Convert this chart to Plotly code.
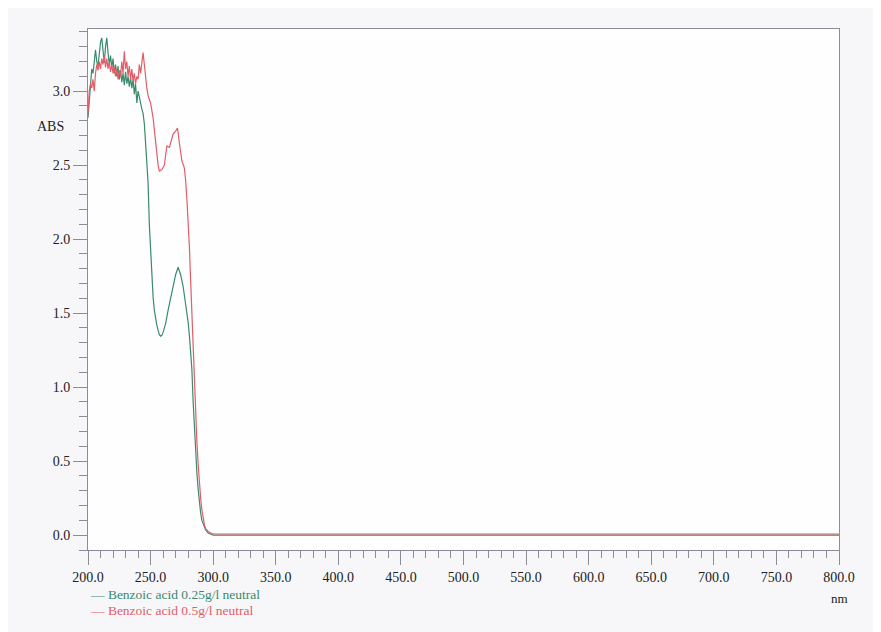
import plotly.graph_objects as go

# UV-Vis absorbance spectra of benzoic acid (neutral)
green_name = "Benzoic acid 0.25g/l neutral"
green_nm = [200, 201, 202, 203, 204, 205, 206, 207, 208, 209, 210, 211, 212, 213, 214, 215,
            216, 217, 218, 219, 220, 221, 222, 223, 224, 225, 226, 227, 228, 229, 230, 231,
            232, 233, 234, 235, 236, 237, 238, 239, 240, 241, 242, 243, 244, 245, 246, 247,
            248, 249, 250, 251, 252, 253, 254, 255, 256, 257, 258, 259, 260, 262, 264, 266,
            268, 270, 272, 274, 276, 278, 280, 281, 282, 283, 284, 285, 286, 287, 288, 289,
            290, 291, 292, 293, 294, 296, 298, 300, 400, 500, 600, 700, 800]
green_abs = [2.82, 2.95, 3.05, 3.15, 3.12, 3.22, 3.28, 3.20, 3.17, 3.25, 3.33, 3.36, 3.24, 3.19, 3.30, 3.36,
             3.26, 3.18, 3.24, 3.16, 3.22, 3.12, 3.18, 3.10, 3.17, 3.08, 3.14, 3.06, 3.12, 3.04, 3.13, 3.05,
             3.10, 3.03, 3.09, 3.02, 3.08, 2.98, 3.05, 2.92, 3.00, 2.95, 2.91, 2.88, 2.85, 2.78, 2.65, 2.52,
             2.38, 2.10, 1.90, 1.74, 1.61, 1.52, 1.46, 1.42, 1.385, 1.355, 1.345, 1.35, 1.37, 1.43, 1.52, 1.60,
             1.69, 1.76, 1.81, 1.76, 1.68, 1.57, 1.44, 1.35, 1.24, 1.12, 0.90, 0.72, 0.53, 0.42, 0.31, 0.22,
             0.15, 0.10, 0.075, 0.05, 0.035, 0.015, 0.005, 0.0, 0.0, 0.0, 0.0, 0.0, 0.0]

red_name = "Benzoic acid 0.5g/l neutral"
red_nm = [200, 201, 202, 203, 204, 205, 206, 207, 208, 209, 210, 211, 212, 213, 214, 215,
          216, 217, 218, 219, 220, 221, 222, 223, 224, 225, 226, 227, 228, 229, 230, 231,
          232, 233, 234, 235, 236, 237, 238, 239, 240, 241, 242, 243, 244, 245, 246, 247,
          248, 250, 252, 254, 256, 257, 259, 261, 262, 263, 265, 267, 268, 270, 271.5, 273,
          275, 277, 278, 279, 280, 281, 282, 283, 284, 285, 286, 287, 288, 289, 290, 291,
          292, 293, 294, 296, 298, 300, 400, 500, 600, 700, 800]
red_abs = [2.85, 3.00, 3.05, 3.02, 3.08, 3.00, 3.12, 3.18, 3.14, 3.20, 3.15, 3.22, 3.18, 3.24, 3.16, 3.22,
           3.15, 3.20, 3.13, 3.18, 3.12, 3.16, 3.10, 3.15, 3.08, 3.14, 3.10, 3.20, 3.12, 3.27, 3.15, 3.20,
           3.10, 3.17, 3.08, 3.15, 3.07, 3.12, 3.05, 3.10, 3.08, 3.18, 3.12, 3.20, 3.26, 3.18, 3.08, 3.02,
           2.97, 2.92, 2.82, 2.65, 2.50, 2.46, 2.47, 2.50, 2.58, 2.63, 2.62, 2.68, 2.71, 2.73, 2.75, 2.65,
           2.53, 2.48, 2.40, 2.27, 2.12, 1.95, 1.72, 1.48, 1.22, 1.02, 0.82, 0.63, 0.48, 0.35, 0.25, 0.17,
           0.11, 0.07, 0.045, 0.025, 0.015, 0.008, 0.008, 0.008, 0.008, 0.008, 0.008]

x_ticks = [200, 250, 300, 350, 400, 450, 500, 550, 600, 650, 700, 750, 800]
y_ticks = [0.0, 0.5, 1.0, 1.5, 2.0, 2.5, 3.0]

green_color = "#3a8a6c"
red_color = "#e35d69"
serif = "Liberation Serif"

fig = go.Figure()
fig.add_trace(go.Scatter(x=green_nm, y=green_abs, mode="lines", name=green_name,
                         line=dict(color=green_color, width=1.2)))
fig.add_trace(go.Scatter(x=red_nm, y=red_abs, mode="lines", name=red_name,
                         line=dict(color=red_color, width=1.2)))

axis_common = dict(
    showline=True, linecolor="#8c8c98", linewidth=1, mirror=True,
    showgrid=False, zeroline=False, ticks="outside", tickcolor="#8c8c98",
    tickfont=dict(family=serif, size=14, color="#222222"),
)

fig.update_xaxes(
    range=[200, 800], tickvals=x_ticks, ticktext=[f"{v:.1f}" for v in x_ticks],
    ticklen=14, minor=dict(dtick=10, ticks="outside", ticklen=7, tickcolor="#8c8c98"),
    **axis_common,
)
fig.update_yaxes(
    range=[-0.1, 3.42], tickvals=y_ticks, ticktext=[f"{v:.1f}" for v in y_ticks],
    ticklen=14, minor=dict(dtick=0.1, tick0=0, ticks="outside", ticklen=8, tickcolor="#8c8c98"),
    **axis_common,
)

annotations = [
    dict(text="ABS", xref="paper", yref="y", x=0, y=2.76, xanchor="right", xshift=-22,
         showarrow=False, font=dict(family=serif, size=14, color="#222222")),
    dict(text="nm", xref="x", yref="paper", x=800, y=0, yanchor="top", yshift=-39,
         showarrow=False, font=dict(family=serif, size=13, color="#222222")),
    dict(text="\u2014 " + green_name, xref="paper", yref="paper", x=0, y=0, xanchor="left",
         yanchor="middle", xshift=0, yshift=-44, showarrow=False,
         font=dict(family=serif, size=13.5, color=green_color)),
    dict(text="\u2014 " + red_name, xref="paper", yref="paper", x=0, y=0, xanchor="left",
         yanchor="middle", xshift=0, yshift=-60, showarrow=False,
         font=dict(family=serif, size=13.5, color=red_color)),
]

# the page body has an 8px margin, so size the figure to fit the window
fig.update_layout(
    width=873, height=624,
    margin=dict(l=80, r=42, t=21, b=82),
    paper_bgcolor="#f7f7fa",
    plot_bgcolor="#fefefe",
    showlegend=False,
    annotations=annotations,
)

fig.write_html("out.html")
